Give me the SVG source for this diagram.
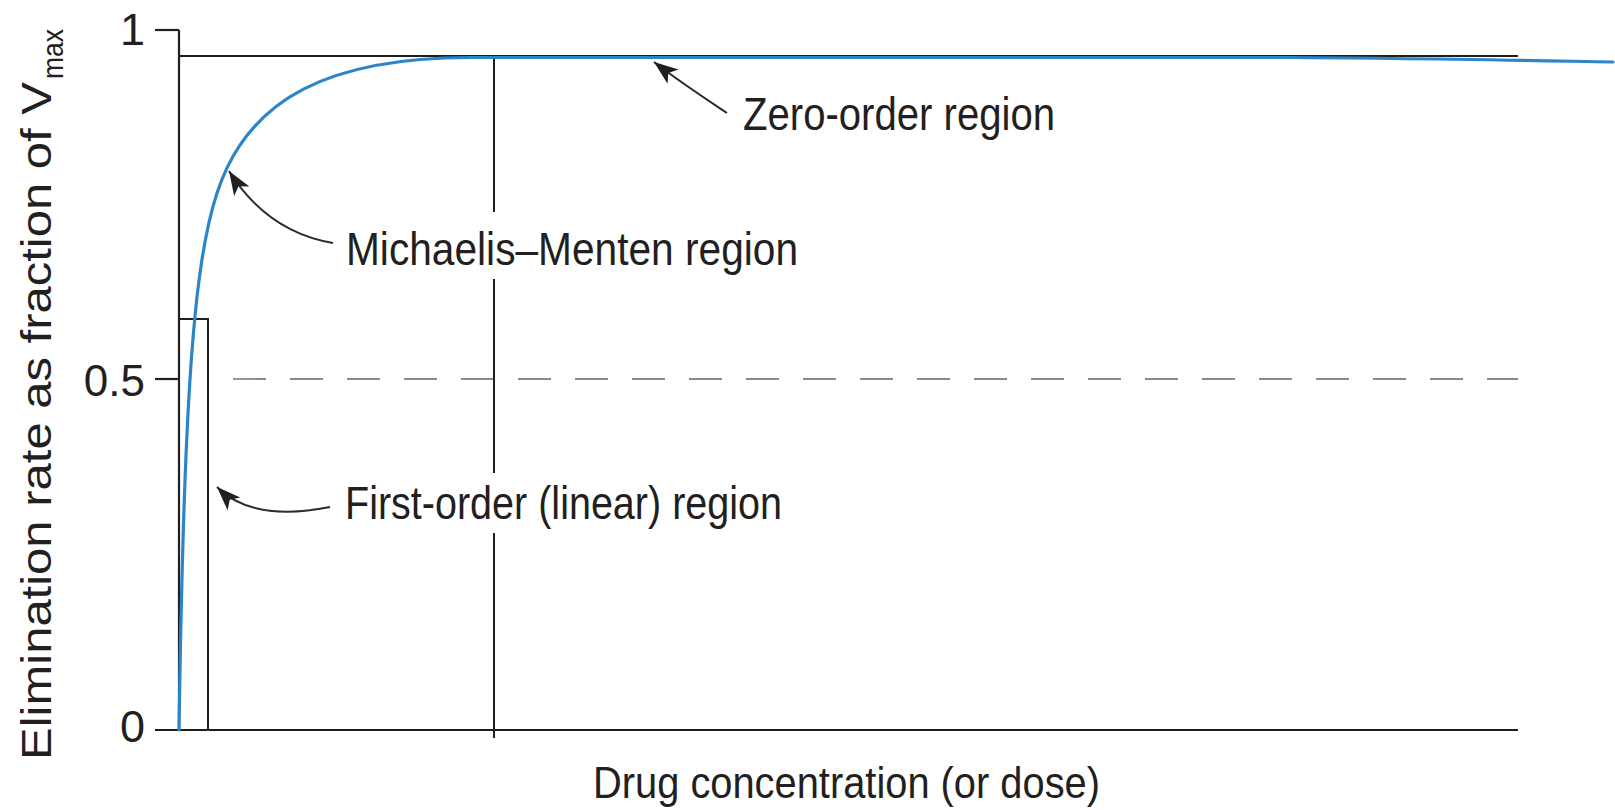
<svg xmlns="http://www.w3.org/2000/svg" width="1615" height="810" viewBox="0 0 1615 810">
  <style>
    .ax { stroke: #1f1f1f; stroke-width: 2.2; fill: none; }
    .thin { stroke: #1f1f1f; stroke-width: 2; fill: none; }
    .dash { stroke: #8a8a8a; stroke-width: 1.8; stroke-dasharray: 33 24; fill: none; }
    .curve { stroke: #2c84c9; stroke-width: 3.2; fill: none; stroke-linejoin: round; stroke-linecap: round; }
    .lead { stroke: #2a2a2a; stroke-width: 2; fill: none; }
    .lbl { font-family: "Liberation Sans", Arial, sans-serif; fill: #231f20; }
  </style>
  <defs>
    <marker id="ah" markerUnits="userSpaceOnUse" markerWidth="26" markerHeight="22" viewBox="0 0 26 22" refX="24" refY="11" orient="auto">
      <path d="M0,2 L24,11 L0,20 L6,11 Z" fill="#1f1f1f"/>
    </marker>
  </defs>
  <rect width="1615" height="810" fill="#ffffff"/>

  <g id="axes">
    <line class="ax" x1="179" y1="30" x2="179" y2="730"/>
    <line class="ax" x1="155" y1="730" x2="1518" y2="730"/>
    <line class="ax" x1="155" y1="30" x2="179" y2="30"/>
    <line class="ax" x1="155" y1="379" x2="179" y2="379"/>
    <text class="lbl" x="145" y="45" font-size="45" text-anchor="end">1</text>
    <text class="lbl" x="145" y="396" font-size="44" text-anchor="end">0.5</text>
    <text class="lbl" x="145" y="742" font-size="45" text-anchor="end">0</text>
    <text class="lbl" font-size="43" transform="translate(51,760) rotate(-90)" textLength="678" lengthAdjust="spacingAndGlyphs">Elimination rate as fraction of V</text>
    <text class="lbl" font-size="30" transform="translate(63,79) rotate(-90)" textLength="50" lengthAdjust="spacingAndGlyphs">max</text>
    <text class="lbl" x="593" y="798" font-size="45" textLength="507" lengthAdjust="spacingAndGlyphs">Drug concentration (or dose)</text>
  </g>

  <g id="reference-lines">
    <line class="thin" x1="179" y1="56" x2="1518" y2="56"/>
    <line class="dash" x1="233" y1="379" x2="1518" y2="379"/>
    <polyline class="thin" points="179,319 208,319 208,730"/>
    <line class="thin" x1="494" y1="56" x2="494" y2="212"/>
    <line class="thin" x1="494" y1="279" x2="494" y2="473"/>
    <line class="thin" x1="494" y1="533" x2="494" y2="738"/>
  </g>

  <g id="mm-curve">
    <path class="curve" d="M179,730 L179.5,698.7 L180,670.2 L180.5,644.1 L181,620 L182,577.3 L183,540.5 L184,508.5 L185,480.3 L186,455.4 L187,433.2 L188,413.3 L189,395.3 L190,379 L191,364.1 L193,338.1 L195,315.9 L197,296.9 L199,280.4 L202,259.3 L205,241.7 L209,222.3 L213,206.4 L217,193.1 L222,179.3 L227,167.9 C257,105.1 320,57.5 470,57.5 L1290,57.5 C1400,58 1500,60 1613,62"/>
  </g>

  <g id="label-zero-order">
    <text class="lbl" x="743" y="130" font-size="47" textLength="312" lengthAdjust="spacingAndGlyphs">Zero-order region</text>
  </g>
  <g id="label-michaelis-menten">
    <text class="lbl" x="346" y="265" font-size="47" textLength="452" lengthAdjust="spacingAndGlyphs">Michaelis–Menten region</text>
  </g>
  <g id="label-first-order">
    <text class="lbl" x="345" y="519" font-size="47" textLength="437" lengthAdjust="spacingAndGlyphs">First-order (linear) region</text>
  </g>

  <g id="connectors">
    <path class="lead" d="M727,113 C706,99 680,82 654,62" marker-end="url(#ah)"/>
    <path class="lead" d="M333,243 C292,236 256,214 229,171" marker-end="url(#ah)"/>
    <path class="lead" d="M330,507 C290,515 246,516 217,487" marker-end="url(#ah)"/>
  </g>
</svg>
